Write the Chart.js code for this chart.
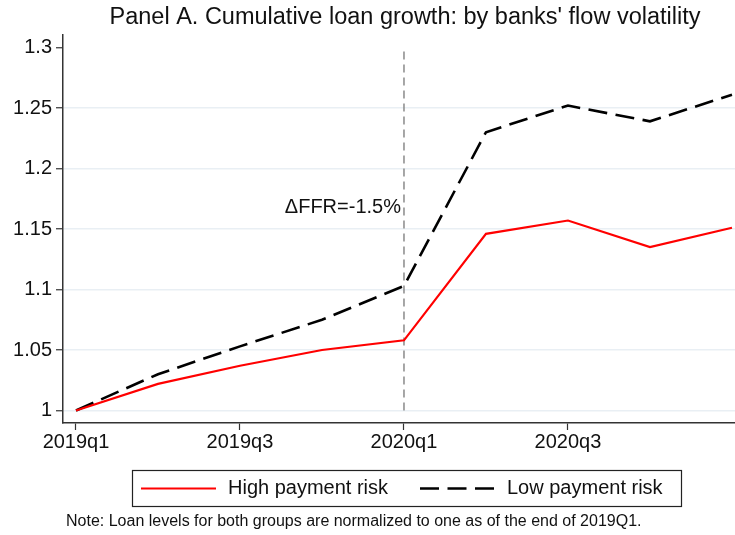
<!DOCTYPE html>
<html><head><meta charset="utf-8">
<script src="https://cdn.jsdelivr.net/npm/chart.js@4/dist/chart.umd.min.js"></script>
<style>html,body{margin:0;padding:0;background:#fff}#wrap{width:735px;height:535px}</style>
</head><body><div id="wrap"><canvas id="c" width="735" height="535"></canvas></div>
<script>
const quarters = ['2019q1','2019q2','2019q3','2019q4','2020q1','2020q2','2020q3','2020q4','2021q1'];
const highRisk = [1.000, 1.022, 1.037, 1.050, 1.058, 1.146, 1.157, 1.135, 1.151];
const lowRisk  = [1.000, 1.030, 1.053, 1.075, 1.103, 1.230, 1.252, 1.239, 1.261];
const xTickIdx = [0, 2, 4, 6];
const yTicks = [1, 1.05, 1.1, 1.15, 1.2, 1.25, 1.3];
const eventIdx = 4;
const eventLabel = '\u0394FFR=-1.5%';
const eventLabelY = 1.168;
const titleText = "Panel A. Cumulative loan growth: by banks' flow volatility";
const noteText = 'Note: Loan levels for both groups are normalized to one as of the end of 2019Q1.';
const FONT = '"Liberation Sans", Arial, Helvetica, sans-serif';

const toPts = arr => arr.map((v, i) => ({x: i, y: v}));

const extras = {
  id: 'extras',
  afterDraw(chart) {
    const ctx = chart.ctx;
    const xs = chart.scales.x, ys = chart.scales.y;
    ctx.save();
    // title
    ctx.fillStyle = '#111';
    ctx.font = '23.5px ' + FONT;
    ctx.textAlign = 'center';
    ctx.textBaseline = 'middle';
    ctx.fillText(titleText, 405, 18);
    // event label
    ctx.font = '20px ' + FONT;
    ctx.textAlign = 'right';
    ctx.fillText(eventLabel, xs.getPixelForValue(eventIdx) - 3, ys.getPixelForValue(eventLabelY));
    // legend
    const ds = chart.data.datasets;
    const bx = 132, by = 470, bw = 549, bh = 36;
    ctx.strokeStyle = '#222';
    ctx.lineWidth = 1.2;
    ctx.strokeRect(bx + 0.5, by + 0.5, bw, bh);
    const cy = by + bh / 2 + 0.5;
    const items = [{d: ds[0], x: 141}, {d: ds[1], x: 420}];
    items.forEach(it => {
      ctx.beginPath();
      ctx.strokeStyle = it.d.borderColor;
      ctx.lineWidth = it.d.borderWidth;
      ctx.setLineDash(it.d.borderDash || []);
      ctx.moveTo(it.x, cy);
      ctx.lineTo(it.x + 75, cy);
      ctx.stroke();
      ctx.setLineDash([]);
      ctx.fillStyle = '#111';
      ctx.font = '20px ' + FONT;
      ctx.textAlign = 'left';
      ctx.textBaseline = 'middle';
      ctx.fillText(it.d.label, it.x + 87, cy);
    });
    // note
    ctx.font = '16px ' + FONT;
    ctx.fillStyle = '#111';
    ctx.textAlign = 'left';
    ctx.fillText(noteText, 66, 522);
    ctx.restore();
  }
};

new Chart(document.getElementById('c'), {
  type: 'line',
  data: {
    datasets: [
      {label: 'High payment risk', data: toPts(highRisk), borderColor: '#ff0000', borderWidth: 2.2, pointRadius: 0, tension: 0, fill: false},
      {label: 'Low payment risk', data: toPts(lowRisk), borderColor: '#000000', borderWidth: 2.6, borderDash: [19, 8.5], pointRadius: 0, tension: 0, fill: false},
      {label: 'event', data: [{x: eventIdx, y: yTicks[0]}, {x: eventIdx, y: yTicks[yTicks.length - 1]}], borderColor: '#8a8a8a', borderWidth: 1.5, borderDash: [8, 5], pointRadius: 0, fill: false}
    ]
  },
  options: {
    responsive: false,
    animation: false,
    layout: {padding: {top: 35, right: 0, left: 0, bottom: 0}},
    plugins: {legend: {display: false}, tooltip: {enabled: false}, title: {display: false}},
    scales: {
      x: {
        type: 'linear',
        min: -0.1585, max: 8.037,
        afterBuildTicks: s => { s.ticks = xTickIdx.map(v => ({value: v})); },
        afterFit: s => { s.height = 112; },
        grid: {drawOnChartArea: false, drawTicks: true, tickLength: 7, tickColor: '#333', tickWidth: 1.2},
        border: {color: '#333', width: 1.5},
        ticks: {autoSkip: false, maxRotation: 0, padding: 0, color: '#111', font: {family: FONT, size: 20},
          callback: v => quarters[v]}
      },
      y: {
        type: 'linear',
        min: 0.98967, max: 1.31033,
        afterBuildTicks: s => { s.ticks = yTicks.map(v => ({value: v})); },
        afterFit: s => { s.width = 63; },
        grid: {
          color: c => (c.tick && c.tick.value === 1.3) ? 'rgba(0,0,0,0)' : '#e9eff4',
          lineWidth: 1.5, drawTicks: true, tickLength: 7, tickColor: '#333', tickWidth: 1.2
        },
        border: {color: '#333', width: 1.5},
        ticks: {padding: 4, color: '#111', font: {family: FONT, size: 20},
          callback: v => String(Math.round(v * 100) / 100)}
      }
    }
  },
  plugins: [extras]
});
</script></body></html>
